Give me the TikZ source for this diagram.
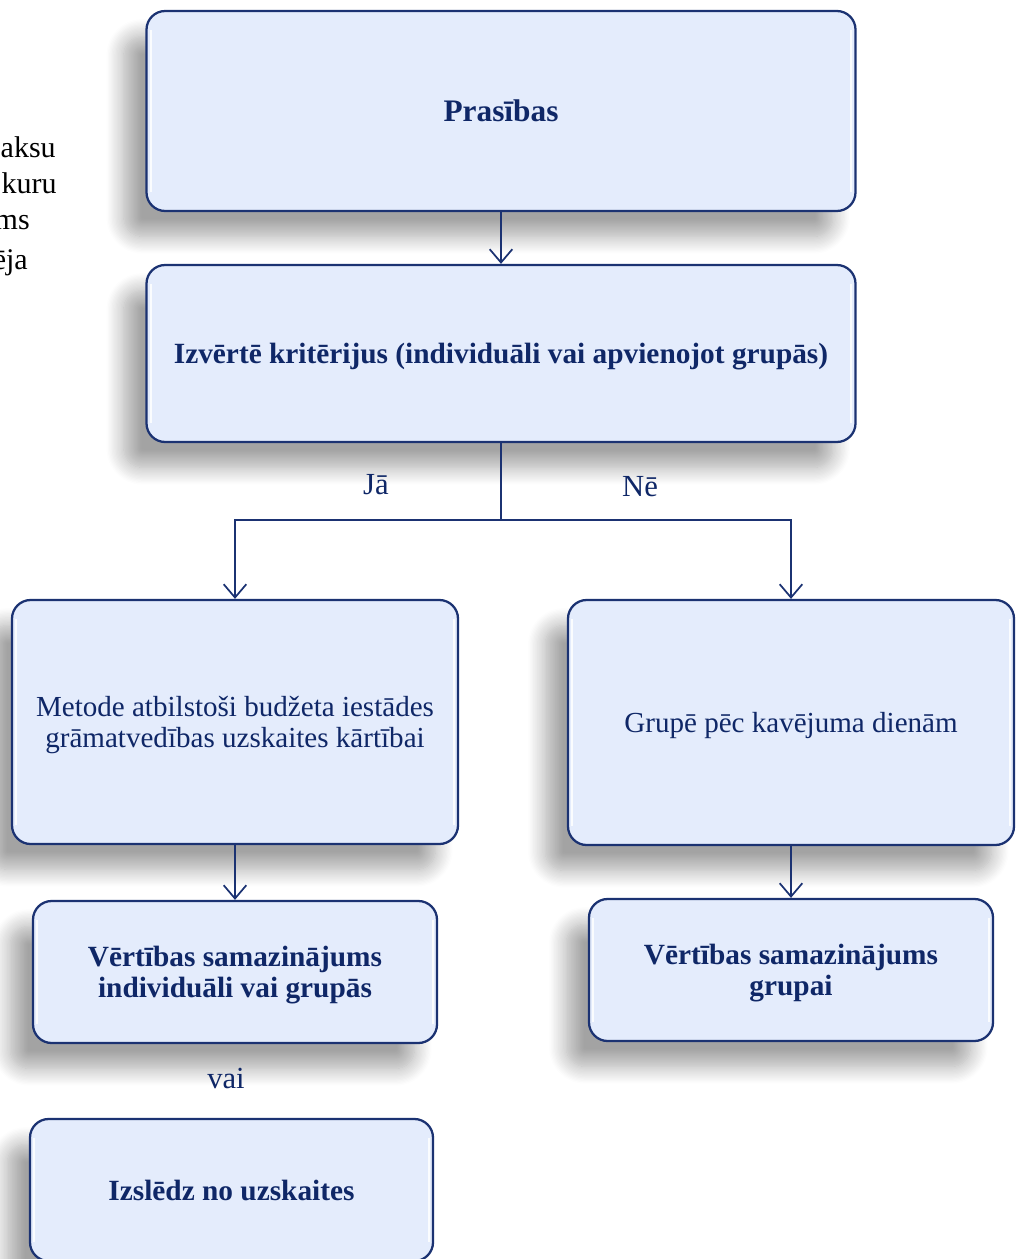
\documentclass[tikz,border=0pt]{standalone}
\usepackage{fontspec}
\setmainfont{Liberation Serif}
\usetikzlibrary{shadows.blur,arrows.meta}
\definecolor{boxfill}{HTML}{E4ECFC}
\definecolor{boxline}{HTML}{1B3272}
\definecolor{txt}{HTML}{0F2767}
\newcommand\lowstrut{\rule{0pt}{20pt}}
\tikzset{
  px/.style={x=0.75pt,y=-0.75pt},
  box/.style={draw=boxline, line width=1.7pt, fill=boxfill, rounded corners=14pt,
    blur shadow={shadow xshift=-17pt, shadow yshift=-19pt, shadow blur radius=13pt, shadow blur steps=14, shadow opacity=36},
    path picture={
      \draw[white, line width=1.6pt, opacity=0.85]
        ([shift={(3.2pt,-14pt)}]path picture bounding box.north west) -- ([shift={(3.2pt,14pt)}]path picture bounding box.south west);
      \draw[white, line width=1.6pt, opacity=0.85]
        ([shift={(-3.2pt,-14pt)}]path picture bounding box.north east) -- ([shift={(-3.2pt,14pt)}]path picture bounding box.south east);
    },
    inner sep=0pt, text=txt, align=center},
  lbl/.style={font=\fontsize{22}{23}\selectfont\bfseries},
  bigl/.style={font=\fontsize{23.5}{25}\selectfont\bfseries},
  rlbl/.style={font=\fontsize{21.8}{23}\selectfont},
  conn/.style={draw=boxline, line width=1.4pt},
  arr/.style={conn, -{Straight Barb[length=10pt,width=17pt,line width=1.3pt]}},
  edge label/.style={text=txt, font=\fontsize{23}{24}\selectfont, inner sep=0pt},
  side/.style={text=black, font=\fontsize{22.5}{24}\selectfont, anchor=base east, inner sep=0pt}
}
\begin{document}
\begin{tikzpicture}[px]
\useasboundingbox (0,0) rectangle (1024,1259);
\begin{scope}
\clip (0,0) rectangle (1024,1259);
% clipped side text
\node[side] (s1) at (56,157) {aksu};
\node[side] (s2) at (57,193) {kuru};
\node[side] (s3) at (30,229) {ms};
\node[side] (s4) at (28,269) {ēja};
% boxes
\node[box, bigl, minimum width=709*0.75pt, minimum height=200*0.75pt] (p) at (501,111) {Prasības};
\node[box, lbl, minimum width=709*0.75pt, minimum height=177*0.75pt] (k) at (501,353.5) {\lowstrut Izvērtē kritērijus (individuāli vai apvienojot grupās)};
\node[box, rlbl, minimum width=446*0.75pt, minimum height=244*0.75pt] (m) at (235,722) {\lowstrut Metode atbilstoši budžeta iestādes\\grāmatvedības uzskaites kārtībai};
\node[box, rlbl, minimum width=446*0.75pt, minimum height=245*0.75pt] (g) at (791,722.5) {\lowstrut Grupē pēc kavējuma dienām};
\node[box, lbl, minimum width=404*0.75pt, minimum height=142*0.75pt] (v1) at (235,972) {\lowstrut Vērtības samazinājums\\individuāli vai grupās};
\node[box, lbl, minimum width=404*0.75pt, minimum height=142*0.75pt] (v2) at (791,970) {\lowstrut Vērtības samazinājums\\grupai};
\node[box, lbl, minimum width=403*0.75pt, minimum height=142*0.75pt] (iz) at (231.5,1190) {Izslēdz no uzskaites};
% connectors
\coordinate (j) at (501,520);
\draw[arr] (p.south) -- (k.north);
\draw[conn] (k.south) -- (j);
\draw[arr] (j) -| (m.north);
\draw[arr] (j) -| (g.north);
\draw[arr] (m.south) -- (v1.north);
\draw[arr] (g.south) -- (v2.north);
\node[edge label] (ja) at (376,485) {Jā};
\node[edge label] (ne) at (640,487) {Nē};
\node[edge label] (vai) at (226,1078) {vai};
\end{scope}
\end{tikzpicture}
\end{document}
